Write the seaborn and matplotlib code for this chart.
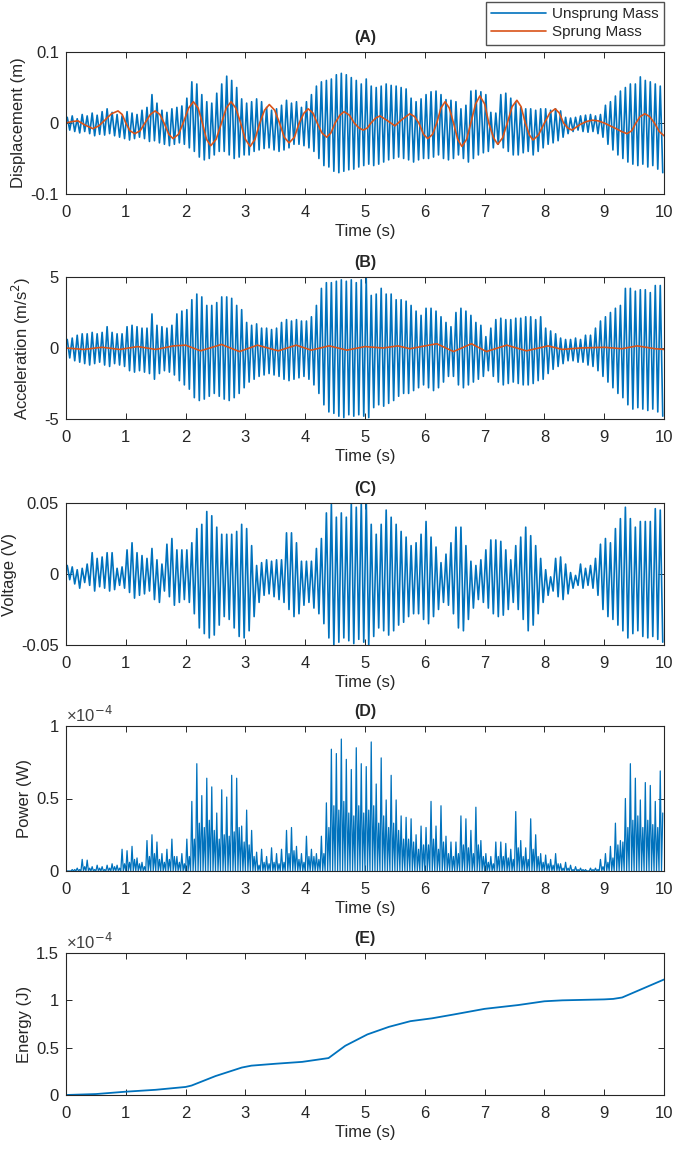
import numpy as np
import matplotlib
matplotlib.use("Agg")
import matplotlib.pyplot as plt
import seaborn as sns

# Unsprung response: one peak and one trough per cycle, 12 cycles per second
CYCLES_PER_S = 12

# (A) displacement of unsprung mass (m)
disp_hi = [0.008, 0.010, 0.006, 0.012, 0.010, 0.014, 0.011, 0.016, 0.020, 0.015, 0.012, 0.010,
           0.016, 0.014, 0.012, 0.018, 0.022, 0.040, 0.028, 0.018, 0.015, 0.020, 0.022, 0.024,
           0.035, 0.058, 0.055, 0.040, 0.030, 0.028, 0.042, 0.055, 0.066, 0.060, 0.050, 0.034,
           0.028, 0.030, 0.034, 0.030, 0.022, 0.018, 0.020, 0.025, 0.032, 0.028, 0.030, 0.022,
           0.030, 0.040, 0.052, 0.058, 0.060, 0.062, 0.068, 0.070, 0.068, 0.064, 0.060, 0.055,
           0.062, 0.052, 0.050, 0.052, 0.055, 0.053, 0.052, 0.050, 0.048, 0.035, 0.030, 0.034,
           0.040, 0.044, 0.045, 0.040, 0.033, 0.032, 0.030, 0.020, 0.025, 0.045, 0.046, 0.044,
           0.040, 0.015, 0.014, 0.040, 0.042, 0.035, 0.030, 0.022, 0.020, 0.020, 0.018, 0.020,
           0.020, 0.018, 0.020, 0.017, 0.008, 0.007, 0.008, 0.010, 0.011, 0.012, 0.010, 0.012,
           0.025, 0.030, 0.038, 0.045, 0.050, 0.055, 0.055, 0.065, 0.060, 0.058, 0.055, 0.052]
disp_lo = [-0.010, -0.012, -0.014, -0.012, -0.015, -0.018, -0.016, -0.017, -0.015, -0.018, -0.020, -0.022,
           -0.024, -0.022, -0.020, -0.022, -0.026, -0.025, -0.028, -0.030, -0.032, -0.030, -0.028, -0.030,
           -0.035, -0.040, -0.048, -0.052, -0.050, -0.045, -0.040, -0.040, -0.045, -0.050, -0.048, -0.045,
           -0.045, -0.040, -0.038, -0.036, -0.035, -0.038, -0.040, -0.038, -0.035, -0.030, -0.030, -0.032,
           -0.035, -0.040, -0.050, -0.060, -0.062, -0.068, -0.070, -0.068, -0.066, -0.065, -0.062, -0.060,
           -0.058, -0.060, -0.058, -0.055, -0.052, -0.050, -0.048, -0.050, -0.052, -0.055, -0.052, -0.050,
           -0.050, -0.048, -0.045, -0.050, -0.052, -0.050, -0.045, -0.050, -0.055, -0.050, -0.045, -0.042,
           -0.040, -0.035, -0.030, -0.035, -0.040, -0.045, -0.045, -0.042, -0.040, -0.045, -0.040, -0.035,
           -0.030, -0.028, -0.025, -0.020, -0.015, -0.012, -0.010, -0.012, -0.013, -0.012, -0.015, -0.020,
           -0.030, -0.038, -0.045, -0.050, -0.055, -0.058, -0.060, -0.058, -0.062, -0.060, -0.065, -0.070]

# (A) displacement of sprung mass (m)
sprung_t = [0.0, 0.1, 0.2, 0.32, 0.45, 0.55, 0.65, 0.76, 0.87, 0.94, 1.0, 1.07, 1.15, 1.24, 1.32,
            1.41, 1.49, 1.57, 1.64, 1.72, 1.79, 1.88, 1.96, 2.05, 2.13, 2.21, 2.28, 2.35, 2.42,
            2.51, 2.6, 2.68, 2.76, 2.84, 2.92, 3.0, 3.08, 3.16, 3.24, 3.32, 3.4, 3.49, 3.57,
            3.65, 3.73, 3.82, 3.9, 3.98, 4.05, 4.13, 4.2, 4.28, 4.36, 4.43, 4.5, 4.58, 4.65,
            4.74, 4.82, 4.9, 4.97, 5.04, 5.1, 5.18, 5.25, 5.38, 5.5, 5.62, 5.75, 5.83, 5.9,
            5.98, 6.05, 6.13, 6.2, 6.27, 6.34, 6.41, 6.48, 6.55, 6.62, 6.7, 6.77, 6.85, 6.92,
            7.0, 7.07, 7.15, 7.22, 7.3, 7.38, 7.46, 7.54, 7.61, 7.68, 7.75, 7.81, 7.9, 8.0,
            8.09, 8.18, 8.25, 8.32, 8.39, 8.46, 8.53, 8.6, 8.7, 8.8, 8.9, 9.0, 9.1, 9.2,
            9.29, 9.38, 9.46, 9.53, 9.6, 9.68, 9.76, 9.84, 9.92, 10.0]
sprung_disp = [0.0, 0.002, 0.003, -0.003, -0.008, -0.004, 0.004, 0.013, 0.017, 0.012, 0.0, -0.011, -0.015, -0.011, 0.0,
               0.012, 0.017, 0.012, 0.0, -0.016, -0.022, -0.016, 0.0, 0.021, 0.030, 0.021, 0.0, -0.023, -0.032,
               -0.023, 0.0, 0.021, 0.030, 0.021, 0.0, -0.023, -0.033, -0.023, 0.0, 0.018, 0.026, 0.018, 0.0,
               -0.020, -0.028, -0.020, 0.0, 0.014, 0.020, 0.014, 0.0, -0.014, -0.020, -0.014, 0.0, 0.011, 0.016,
               0.011, 0.0, -0.007, -0.010, -0.007, 0.0, 0.007, 0.010, 0.003, -0.004, 0.005, 0.013, 0.009, 0.0,
               -0.016, -0.022, -0.016, 0.0, 0.021, 0.030, 0.021, 0.0, -0.023, -0.033, -0.023, 0.0, 0.027, 0.038,
               0.027, 0.0, -0.021, -0.030, -0.021, 0.0, 0.023, 0.032, 0.023, 0.0, -0.017, -0.024, -0.017, 0.0,
               0.014, 0.020, 0.014, 0.0, -0.007, -0.010, -0.006, -0.002, 0.002, 0.004, 0.003, 0.0, -0.004, -0.008,
               -0.012, -0.015, -0.011, 0.0, 0.009, 0.013, 0.009, 0.0, -0.012, -0.018]

# (B) acceleration of unsprung mass (m/s^2)
acc_hi = [0.6, 0.7, 0.9, 1.0, 1.0, 1.1, 1.0, 1.1, 1.5, 1.1, 1.0, 1.0,
          1.5, 1.6, 1.5, 1.4, 1.4, 2.4, 1.6, 1.5, 1.4, 1.6, 2.4, 2.6,
          2.7, 3.4, 3.8, 3.6, 3.0, 3.0, 3.2, 3.6, 3.6, 3.5, 3.0, 2.7,
          1.8, 1.6, 1.7, 1.4, 1.4, 1.3, 1.4, 1.8, 2.0, 1.9, 2.0, 1.9,
          1.9, 2.2, 3.0, 4.2, 4.6, 4.6, 4.7, 4.8, 4.7, 4.8, 4.6, 4.8,
          4.9, 3.7, 3.8, 4.2, 3.8, 3.8, 3.4, 3.4, 3.3, 3.0, 2.6, 2.3,
          2.8, 2.8, 2.6, 2.2, 1.8, 1.5, 2.5, 2.8, 2.6, 2.3, 1.8, 1.6,
          0.8, 1.4, 2.0, 2.1, 2.0, 2.0, 2.1, 2.1, 2.2, 2.2, 2.0, 2.2,
          1.4, 1.2, 1.0, 0.7, 0.6, 0.6, 0.7, 0.6, 0.9, 0.9, 1.4, 1.9,
          2.2, 2.5, 2.8, 3.0, 4.2, 4.2, 4.0, 4.1, 4.1, 3.9, 4.4, 4.4]
acc_lo = [-0.7, -0.9, -1.0, -1.1, -1.2, -1.1, -1.0, -1.2, -1.3, -1.1, -1.2, -1.3,
          -1.6, -1.7, -1.6, -1.7, -1.8, -2.2, -1.8, -1.6, -1.7, -1.9, -2.3, -2.6,
          -2.9, -3.5, -3.7, -3.6, -3.4, -3.2, -3.4, -3.6, -3.7, -3.5, -3.2, -2.8,
          -2.4, -2.2, -2.0, -1.9, -1.8, -1.9, -2.0, -2.2, -2.3, -2.2, -2.1, -2.0,
          -2.2, -2.6, -3.2, -4.0, -4.5, -4.6, -4.8, -4.9, -4.7, -4.8, -4.7, -4.8,
          -4.9, -4.2, -4.0, -4.1, -3.9, -3.7, -3.4, -3.2, -3.2, -3.0, -2.8, -2.6,
          -2.8, -3.0, -2.8, -2.4, -2.0, -2.0, -2.6, -2.8, -2.6, -2.4, -2.2, -2.0,
          -1.6, -2.0, -2.4, -2.6, -2.5, -2.4, -2.5, -2.6, -2.6, -2.5, -2.3, -2.2,
          -1.8, -1.5, -1.3, -1.1, -0.9, -0.9, -1.0, -1.0, -1.2, -1.3, -1.6, -2.0,
          -2.4, -2.8, -3.2, -3.5, -4.0, -4.3, -4.2, -4.3, -4.4, -4.3, -4.5, -4.8]

# (B) acceleration of sprung mass (m/s^2)
sprung_acc_t = [0.0, 0.3, 0.6, 0.9, 1.2, 1.5, 1.8, 2.0, 2.25, 2.6, 2.9, 3.2, 3.55, 3.85, 4.1,
                4.4, 4.7, 5.0, 5.3, 5.55, 5.75, 6.2, 6.48, 6.78, 7.03, 7.37, 7.7, 8.06, 8.3,
                8.6, 9.0, 9.3, 9.55, 9.85, 10.0]
sprung_acc = [0.0, -0.1, 0.05, -0.1, 0.1, -0.1, 0.15, 0.2, -0.2, 0.25, -0.25, 0.2, -0.2, 0.2, -0.15,
              0.15, -0.15, 0.1, 0.0, 0.15, -0.05, 0.3, -0.25, 0.3, -0.25, 0.2, -0.2, 0.15, -0.1,
              0.0, 0.05, -0.05, 0.15, -0.05, -0.1]

# (C) harvested voltage (V)
volt_hi = [0.006, 0.005, 0.003, 0.004, 0.007, 0.015, 0.011, 0.012, 0.015, 0.015, 0.004, 0.005,
           0.017, 0.022, 0.015, 0.013, 0.011, 0.018, 0.010, 0.007, 0.021, 0.025, 0.017, 0.017,
           0.017, 0.022, 0.032, 0.035, 0.044, 0.041, 0.033, 0.028, 0.028, 0.028, 0.030, 0.035,
           0.032, 0.020, 0.006, 0.008, 0.010, 0.009, 0.010, 0.010, 0.029, 0.029, 0.022, 0.009,
           0.009, 0.009, 0.018, 0.025, 0.043, 0.049, 0.040, 0.043, 0.040, 0.050, 0.047, 0.050,
           0.052, 0.035, 0.028, 0.035, 0.045, 0.040, 0.035, 0.030, 0.026, 0.020, 0.022, 0.028,
           0.037, 0.026, 0.019, 0.008, 0.014, 0.022, 0.033, 0.033, 0.020, 0.009, 0.006, 0.010,
           0.017, 0.024, 0.024, 0.023, 0.017, 0.010, 0.020, 0.026, 0.033, 0.027, 0.020, 0.011,
           0.003, -0.002, 0.011, 0.012, 0.007, 0.001, -0.001, 0.007, 0.004, 0.006, 0.011, 0.021,
           0.025, 0.022, 0.032, 0.039, 0.047, 0.039, 0.033, 0.037, 0.037, 0.037, 0.046, 0.045]
volt_lo = [-0.004, -0.007, -0.010, -0.006, -0.008, -0.012, -0.009, -0.010, -0.012, -0.011, -0.008, -0.010,
           -0.013, -0.017, -0.015, -0.014, -0.012, -0.018, -0.020, -0.012, -0.016, -0.022, -0.020, -0.018,
           -0.020, -0.028, -0.038, -0.042, -0.045, -0.043, -0.036, -0.030, -0.032, -0.038, -0.044, -0.045,
           -0.040, -0.030, -0.020, -0.015, -0.014, -0.016, -0.018, -0.020, -0.025, -0.030, -0.028, -0.022,
           -0.020, -0.024, -0.028, -0.035, -0.045, -0.050, -0.048, -0.045, -0.047, -0.049, -0.046, -0.048,
           -0.050, -0.044, -0.038, -0.040, -0.043, -0.040, -0.036, -0.034, -0.030, -0.028, -0.028, -0.032,
           -0.035, -0.030, -0.025, -0.020, -0.022, -0.028, -0.038, -0.040, -0.032, -0.024, -0.018, -0.020,
           -0.024, -0.028, -0.030, -0.029, -0.025, -0.020, -0.025, -0.032, -0.040, -0.036, -0.028, -0.020,
           -0.015, -0.012, -0.016, -0.018, -0.014, -0.010, -0.008, -0.010, -0.008, -0.010, -0.015, -0.025,
           -0.030, -0.032, -0.036, -0.040, -0.045, -0.042, -0.040, -0.044, -0.045, -0.044, -0.046, -0.048]

# (D) power spikes (x1e-4 W), two per voltage cycle, zero in between
power_hi = [0.00, 0.01, 0.02, 0.08, 0.075, 0.03, 0.04, 0.03, 0.04, 0.05, 0.04, 0.15,
            0.14, 0.17, 0.09, 0.06, 0.21, 0.25, 0.20, 0.12, 0.15, 0.22, 0.10, 0.12,
            0.22, 0.48, 0.74, 0.52, 0.64, 0.58, 0.40, 0.56, 0.51, 0.66, 0.64, 0.31,
            0.42, 0.28, 0.13, 0.15, 0.10, 0.16, 0.12, 0.15, 0.28, 0.30, 0.17, 0.12,
            0.24, 0.15, 0.12, 0.24, 0.47, 0.84, 0.81, 0.91, 0.77, 0.70, 0.85, 0.74,
            0.72, 0.89, 0.60, 0.78, 0.49, 0.66, 0.49, 0.38, 0.37, 0.36, 0.25, 0.31,
            0.30, 0.48, 0.31, 0.45, 0.24, 0.20, 0.20, 0.38, 0.36, 0.28, 0.44, 0.21,
            0.12, 0.10, 0.20, 0.20, 0.19, 0.15, 0.41, 0.21, 0.16, 0.36, 0.25, 0.12,
            0.11, 0.08, 0.12, 0.05, 0.06, 0.04, 0.03, 0.02, 0.01, 0.02, 0.02, 0.08,
            0.12, 0.17, 0.33, 0.21, 0.50, 0.74, 0.64, 0.49, 0.61, 0.59, 0.48, 0.69]
power_lo = [0.00, 0.01, 0.01, 0.03, 0.02, 0.01, 0.02, 0.01, 0.02, 0.03, 0.02, 0.05,
            0.06, 0.08, 0.05, 0.03, 0.10, 0.12, 0.08, 0.06, 0.08, 0.10, 0.06, 0.05,
            0.10, 0.22, 0.33, 0.30, 0.35, 0.28, 0.22, 0.25, 0.24, 0.27, 0.30, 0.20,
            0.18, 0.10, 0.04, 0.06, 0.05, 0.06, 0.05, 0.06, 0.12, 0.14, 0.08, 0.06,
            0.10, 0.10, 0.08, 0.12, 0.30, 0.45, 0.42, 0.48, 0.40, 0.38, 0.45, 0.40,
            0.42, 0.45, 0.33, 0.38, 0.30, 0.33, 0.28, 0.22, 0.22, 0.20, 0.15, 0.18,
            0.18, 0.22, 0.15, 0.20, 0.12, 0.10, 0.12, 0.18, 0.16, 0.12, 0.18, 0.10,
            0.06, 0.05, 0.10, 0.10, 0.09, 0.08, 0.16, 0.10, 0.08, 0.15, 0.10, 0.06,
            0.05, 0.04, 0.05, 0.02, 0.02, 0.01, 0.01, 0.01, 0.00, 0.01, 0.01, 0.03,
            0.06, 0.09, 0.18, 0.20, 0.30, 0.35, 0.38, 0.30, 0.35, 0.32, 0.30, 0.40]

# (E) cumulative energy (x1e-4 J)
energy_t = [0.0, 0.5, 1.0, 1.5, 2.0, 2.1, 2.5, 2.94, 3.1, 3.5, 3.95, 4.39, 4.67, 5.04, 5.4,
            5.76, 6.12, 6.48, 7.0, 7.56, 8.0, 8.3, 9.0, 9.15, 9.3, 10.0]
energy = [0.0, 0.01, 0.035, 0.055, 0.085, 0.10, 0.20, 0.29, 0.31, 0.33, 0.35, 0.39, 0.52, 0.64, 0.72,
          0.78, 0.81, 0.85, 0.91, 0.95, 0.99, 1.0, 1.01, 1.015, 1.03, 1.22]

BLUE = "#0072BD"
ORANGE = "#D95319"
INK = "#262626"


def zigzag(hi, lo):
    k = np.arange(len(hi))
    t = np.empty(2 * len(hi))
    y = np.empty(2 * len(hi))
    t[0::2] = (k + 0.25) / CYCLES_PER_S
    t[1::2] = (k + 0.75) / CYCLES_PER_S
    y[0::2] = hi
    y[1::2] = lo
    return t, y


def spikes(hi, lo):
    k = np.arange(len(hi))
    t = np.empty(4 * len(hi))
    y = np.zeros(4 * len(hi))
    t[0::4] = k / CYCLES_PER_S
    t[1::4] = (k + 0.25) / CYCLES_PER_S
    t[2::4] = (k + 0.5) / CYCLES_PER_S
    t[3::4] = (k + 0.75) / CYCLES_PER_S
    y[1::4] = hi
    y[3::4] = lo
    return t, y


sns.set_theme(style="ticks")
plt.rcParams["font.family"] = ["Liberation Sans", "DejaVu Sans"]
plt.rcParams["axes.unicode_minus"] = False
FS = 12

fig = plt.figure(figsize=(6.77, 11.5), dpi=100)
W, H = 677, 1150
left, right = 66, 664
# (top, bottom) pixel rows of each panel
boxes = [(52, 194), (277, 419), (503, 645), (726, 871), (953, 1095)]
axes = [fig.add_axes([left / W, 1 - b / H, (right - left) / W, (b - t) / H]) for t, b in boxes]


def style(ax, title, ylabel, yticks, ylim, label_x):
    ax.set_xlim(0, 10)
    ax.set_ylim(*ylim)
    ax.set_xticks(range(11))
    ax.set_yticks(yticks)
    ax.set_yticklabels(["%g" % v for v in yticks])
    ax.set_title(title, fontsize=FS - 0.5, fontweight="bold", pad=7)
    ax.set_xlabel("Time (s)", fontsize=FS, labelpad=3)
    ax.set_ylabel(ylabel, fontsize=FS)
    # label_x: pixel column of the ylabel's right side
    ax.yaxis.set_label_coords(-(left - label_x) / (right - left), 0.5)
    ax.tick_params(direction="in", top=True, right=True, length=4, width=0.7,
                   labelsize=FS, colors=INK)
    ax.tick_params(axis="x", pad=8)
    ax.tick_params(axis="y", pad=5)
    for s in ax.spines.values():
        s.set_visible(True)
        s.set_linewidth(0.8)
        s.set_color(INK)


# (A)
t, y = zigzag(disp_hi, disp_lo)
sns.lineplot(x=t, y=y, ax=axes[0], color=BLUE, lw=1.2, sort=False, estimator=None, label="Unsprung Mass")
sns.lineplot(x=sprung_t, y=sprung_disp, ax=axes[0], color=ORANGE, lw=1.2, sort=False, estimator=None, label="Sprung Mass")
style(axes[0], "(A)", "Displacement (m)", [-0.1, 0, 0.1], (-0.1, 0.1), 26)
handles, labels = axes[0].get_legend_handles_labels()
axes[0].get_legend().remove()
fig.legend(handles, labels, loc="upper right", bbox_to_anchor=(right / W, 1 - 2 / H),
           borderaxespad=0, fontsize=11, frameon=True, fancybox=False, edgecolor=INK,
           handlelength=3.6, borderpad=0.35, labelspacing=0.25, handletextpad=0.4)

# (B)
t, y = zigzag(acc_hi, acc_lo)
sns.lineplot(x=t, y=y, ax=axes[1], color=BLUE, lw=1.2, sort=False, estimator=None)
sns.lineplot(x=sprung_acc_t, y=sprung_acc, ax=axes[1], color=ORANGE, lw=1.2, sort=False, estimator=None)
style(axes[1], "(B)", "Acceleration (m/s$^2$)", [-5, 0, 5], (-5, 5), 33)

# (C)
t, y = zigzag(volt_hi, volt_lo)
sns.lineplot(x=t, y=y, ax=axes[2], color=BLUE, lw=1.2, sort=False, estimator=None)
style(axes[2], "(C)", "Voltage (V)", [-0.05, 0, 0.05], (-0.05, 0.05), 17)

# (D)
t, y = spikes(power_hi, power_lo)
sns.lineplot(x=t, y=y, ax=axes[3], color=BLUE, lw=0.9, sort=False, estimator=None)
style(axes[3], "(D)", "Power (W)", [0, 0.5, 1], (0, 1), 32)
axes[3].text(0, 1.01, "\u00d710$^{-4}$", transform=axes[3].transAxes, fontsize=FS,
             ha="left", va="bottom", color="#404040")

# (E)
sns.lineplot(x=energy_t, y=energy, ax=axes[4], color=BLUE, lw=1.3, sort=False, estimator=None)
style(axes[4], "(E)", "Energy (J)", [0, 0.5, 1, 1.5], (0, 1.5), 32)
axes[4].text(0, 1.01, "\u00d710$^{-4}$", transform=axes[4].transAxes, fontsize=FS,
             ha="left", va="bottom", color="#404040")

fig.savefig("out.png", dpi=100)
